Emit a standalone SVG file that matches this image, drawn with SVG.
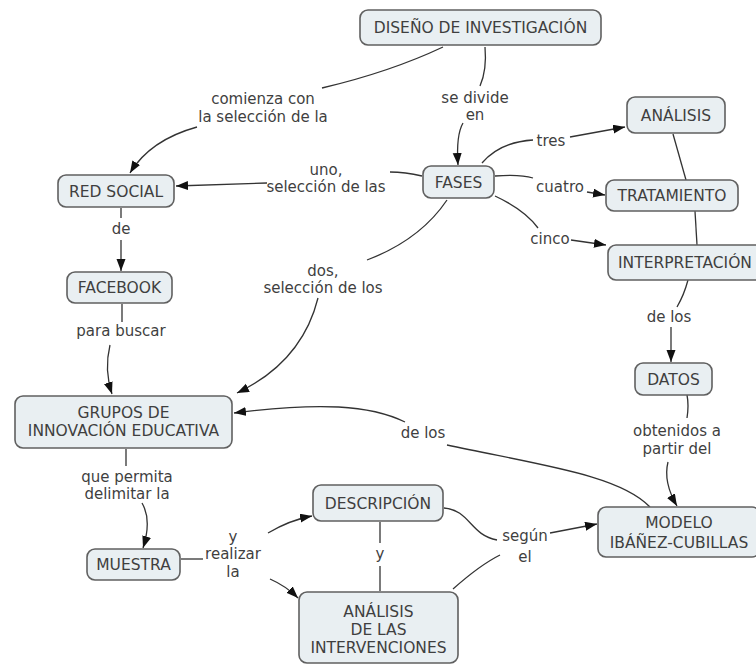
<svg xmlns="http://www.w3.org/2000/svg" width="756" height="664" viewBox="0 0 756 664">
<defs>
<marker id="arr" markerUnits="userSpaceOnUse" markerWidth="13" markerHeight="10" refX="12" refY="4.5" orient="auto">
<path d="M0,0 L12,4.5 L0,9 z" fill="#111"/>
</marker>
<style>
.n rect{fill:#e9eff2;stroke:#606060;stroke-width:1.6}
.n text{font-family:"DejaVu Sans",Verdana,sans-serif;font-size:15.5px;fill:#3f3f3f;text-anchor:middle}
.l{font-family:"DejaVu Sans",Verdana,sans-serif;font-size:15px;fill:#3f3f3f;text-anchor:middle}
#connectors path{fill:none;stroke:#333;stroke-width:1.3}
#connectors path.a{marker-end:url(#arr)}
</style>
</defs>
<rect width="756" height="664" fill="#ffffff"/>
<g id="connectors">
<path d="M443,47 Q390,72 322,88"/>
<path class="a" d="M197,127 Q150,140 130,173"/>
<path d="M485,47 Q487,70 480,86"/>
<path class="a" d="M463,123 Q456,135 458,165"/>
<path d="M422,176 Q405,172 390,172"/>
<path class="a" d="M267,183 L176,186"/>
<path d="M447,200 Q420,240 367,260"/>
<path class="a" d="M318,298 Q302,362 237,393"/>
<path d="M482,163 Q500,142 533,140"/>
<path class="a" d="M570,137 L625,127"/>
<path d="M495,176 Q520,174 533,178"/>
<path class="a" d="M587,192 L605,195"/>
<path d="M495,196 Q525,210 538,228"/>
<path class="a" d="M571,240 L606,245"/>
<path d="M673,134 L686,180"/>
<path d="M695,211 L697,245"/>
<path d="M688,280 Q684,295 677,307"/>
<path class="a" d="M671,327 L671,362"/>
<path d="M687,395 Q689,405 687,418"/>
<path class="a" d="M668,462 Q663,482 677,506"/>
<path d="M650,507 C620,475 540,465 447,445"/>
<path class="a" d="M405,422 C370,405 320,402 234,413"/>
<path d="M121,208 L121,218"/>
<path class="a" d="M121,240 L121,271"/>
<path d="M122,304 L122,322"/>
<path class="a" d="M110,345 Q104,370 112,394"/>
<path d="M126,449 L126,466"/>
<path class="a" d="M142,503 Q152,520 143,548"/>
<path d="M181,559 L203,559"/>
<path class="a" d="M268,533 Q290,520 312,516"/>
<path class="a" d="M270,579 Q286,586 298,598"/>
<path d="M380,522 L380,543"/>
<path d="M380,566 L380,591"/>
<path d="M444,508 C470,510 470,535 497,540"/>
<path d="M453,589 Q480,565 500,555"/>
<path class="a" d="M550,533 L597,524"/>
</g>
<g id="labels">
<text class="l" x="263" y="104">comienza con</text>
<text class="l" x="263" y="122">la selección de la</text>
<text class="l" x="475" y="103">se divide</text>
<text class="l" x="475" y="120">en</text>
<text class="l" x="326" y="175">uno,</text>
<text class="l" x="326" y="192">selección de las</text>
<text class="l" x="323" y="276">dos,</text>
<text class="l" x="323" y="293">selección de los</text>
<text class="l" x="551" y="146">tres</text>
<text class="l" x="560" y="192">cuatro</text>
<text class="l" x="550" y="244">cinco</text>
<text class="l" x="121" y="234">de</text>
<text class="l" x="121" y="336">para buscar</text>
<text class="l" x="127" y="482">que permita</text>
<text class="l" x="127" y="499">delimitar la</text>
<text class="l" x="233" y="542">y</text>
<text class="l" x="233" y="559">realizar</text>
<text class="l" x="233" y="577">la</text>
<text class="l" x="380" y="559">y</text>
<text class="l" x="525" y="541">según</text>
<text class="l" x="525" y="562">el</text>
<text class="l" x="423" y="438">de los</text>
<text class="l" x="669" y="322">de los</text>
<text class="l" x="677" y="436">obtenidos a</text>
<text class="l" x="677" y="454">partir del</text>
</g>
<g id="n-diseno" class="n"><rect x="360" y="10" width="241" height="35" rx="8"/><text x="480.5" y="33">DISEÑO DE INVESTIGACIÓN</text></g>
<g id="n-redsocial" class="n"><rect x="58" y="175" width="116" height="32" rx="8"/><text x="116" y="196.5">RED SOCIAL</text></g>
<g id="n-facebook" class="n"><rect x="67" y="272" width="105" height="31" rx="8"/><text x="119.5" y="293">FACEBOOK</text></g>
<g id="n-fases" class="n"><rect x="423" y="166" width="71" height="32" rx="8"/><text x="458.5" y="187.5">FASES</text></g>
<g id="n-analisis" class="n"><rect x="627" y="97" width="98" height="36" rx="8"/><text x="676" y="120.5">ANÁLISIS</text></g>
<g id="n-tratamiento" class="n"><rect x="606" y="180" width="132" height="31" rx="8"/><text x="672" y="201">TRATAMIENTO</text></g>
<g id="n-interpretacion" class="n"><rect x="608" y="245" width="162" height="35" rx="8"/><text x="685" y="268">INTERPRETACIÓN</text></g>
<g id="n-datos" class="n"><rect x="635" y="363" width="77" height="32" rx="8"/><text x="673.5" y="384.5">DATOS</text></g>
<g id="n-grupos" class="n"><rect x="15" y="396" width="217" height="52" rx="8"/><text x="123.5" y="418">GRUPOS DE</text><text x="123.5" y="436">INNOVACIÓN EDUCATIVA</text></g>
<g id="n-muestra" class="n"><rect x="87" y="549" width="93" height="31" rx="8"/><text x="133.5" y="570">MUESTRA</text></g>
<g id="n-descripcion" class="n"><rect x="313" y="485" width="130" height="36" rx="8"/><text x="378" y="508.5">DESCRIPCIÓN</text></g>
<g id="n-analisis-int" class="n"><rect x="299" y="592" width="159" height="71" rx="8"/><text x="378.5" y="617">ANÁLISIS</text><text x="378.5" y="635">DE LAS</text><text x="378.5" y="653">INTERVENCIONES</text></g>
<g id="n-modelo" class="n"><rect x="598" y="507" width="162" height="50" rx="8"/><text x="679" y="528">MODELO</text><text x="679" y="548">IBÁÑEZ-CUBILLAS</text></g>
</svg>
